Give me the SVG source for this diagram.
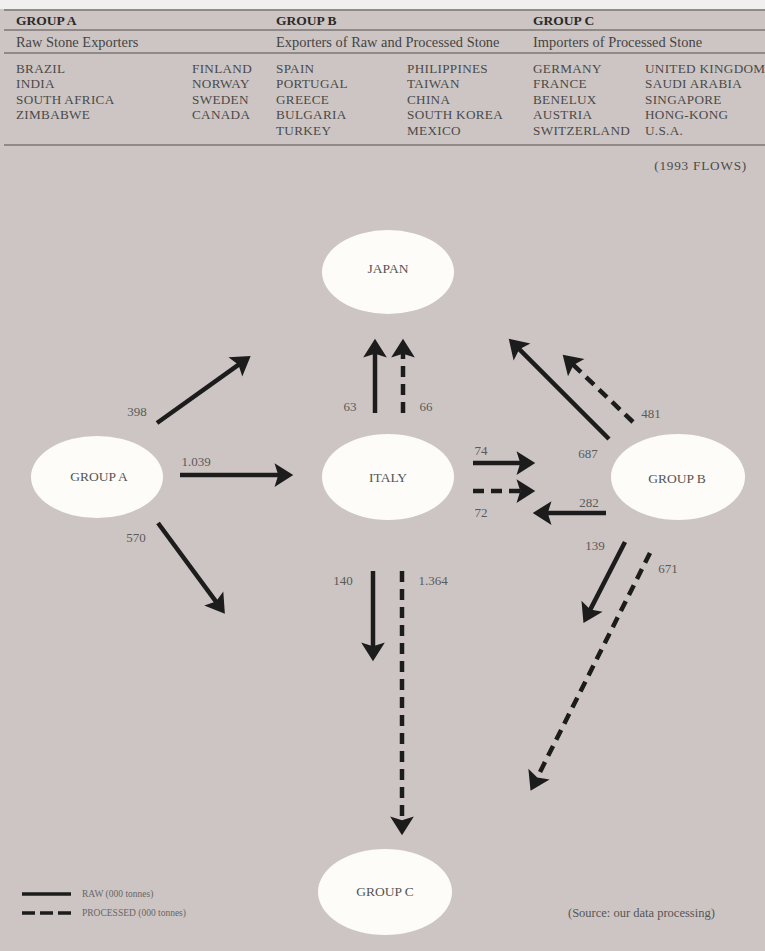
<svg xmlns="http://www.w3.org/2000/svg" width="765" height="951" viewBox="0 0 765 951">
<style>
.hd{font-family:"Liberation Serif",serif;font-weight:bold;font-size:13.5px;fill:#2a2a2a}
.sub{font-family:"Liberation Serif",serif;font-size:14.4px;fill:#444}
.ct{font-family:"Liberation Serif",serif;font-size:13.2px;fill:#4a4a4a;letter-spacing:0.3px}
.rule{stroke:#7a7473;stroke-width:1.3}
.node{fill:#fdfcf8}
.nl{font-family:"Liberation Serif",serif;font-size:13.5px;fill:#555;text-anchor:middle}
.lb{font-family:"Liberation Serif",serif;font-size:13px;fill:#5a5a5a;text-anchor:middle}
.raw{stroke:#1c1c1c;stroke-width:4.5;fill:none;marker-end:url(#ah)}
.proc{stroke:#1c1c1c;stroke-width:4.5;fill:none;stroke-dasharray:11 7;marker-end:url(#ah)}
.lg{font-family:"Liberation Serif",serif;font-size:9.5px;fill:#666}
.note{font-family:"Liberation Serif",serif;font-size:12.5px;fill:#555}
</style>
<defs>
<marker id="ah" markerUnits="userSpaceOnUse" markerWidth="30" markerHeight="30" viewBox="-10 -12 22 24" refX="0" refY="0" orient="auto">
<path d="M9,0 L-6,-9.5 L-3,0 L-6,9.5 Z" fill="#1c1c1c"/>
</marker>
</defs>
<rect x="0" y="0" width="765" height="951" fill="#cdc5c3"/>
<rect x="0" y="0" width="765" height="9" fill="#f2f0ef"/>
<g id="header">
<line class="rule" x1="4" y1="10" x2="765" y2="10"/>
<line class="rule" x1="4" y1="30" x2="765" y2="30"/>
<line class="rule" x1="4" y1="53" x2="765" y2="53"/>
<line class="rule" x1="4" y1="145" x2="765" y2="145"/>
<text class="hd" x="16" y="25">GROUP A</text>
<text class="sub" x="16" y="47">Raw Stone Exporters</text>
<text class="ct" x="16" y="73">BRAZIL</text>
<text class="ct" x="16" y="88">INDIA</text>
<text class="ct" x="16" y="104">SOUTH AFRICA</text>
<text class="ct" x="16" y="119">ZIMBABWE</text>
<text class="ct" x="192" y="73">FINLAND</text>
<text class="ct" x="192" y="88">NORWAY</text>
<text class="ct" x="192" y="104">SWEDEN</text>
<text class="ct" x="192" y="119">CANADA</text>
<text class="hd" x="276" y="25">GROUP B</text>
<text class="sub" x="276" y="47">Exporters of Raw and Processed Stone</text>
<text class="ct" x="276" y="73">SPAIN</text>
<text class="ct" x="276" y="88">PORTUGAL</text>
<text class="ct" x="276" y="104">GREECE</text>
<text class="ct" x="276" y="119">BULGARIA</text>
<text class="ct" x="276" y="135">TURKEY</text>
<text class="ct" x="407" y="73">PHILIPPINES</text>
<text class="ct" x="407" y="88">TAIWAN</text>
<text class="ct" x="407" y="104">CHINA</text>
<text class="ct" x="407" y="119">SOUTH KOREA</text>
<text class="ct" x="407" y="135">MEXICO</text>
<text class="hd" x="533" y="25">GROUP C</text>
<text class="sub" x="533" y="47">Importers of Processed Stone</text>
<text class="ct" x="533" y="73">GERMANY</text>
<text class="ct" x="533" y="88">FRANCE</text>
<text class="ct" x="533" y="104">BENELUX</text>
<text class="ct" x="533" y="119">AUSTRIA</text>
<text class="ct" x="533" y="135">SWITZERLAND</text>
<text class="ct" x="645" y="73">UNITED KINGDOM</text>
<text class="ct" x="645" y="88">SAUDI ARABIA</text>
<text class="ct" x="645" y="104">SINGAPORE</text>
<text class="ct" x="645" y="119">HONG-KONG</text>
<text class="ct" x="645" y="135">U.S.A.</text>
<text class="ct" x="747" y="170" text-anchor="end" style="letter-spacing:0.8px">(1993 FLOWS)</text>
</g>
<g id="connectors">
<line class="raw" x1="157" y1="423" x2="241.5" y2="362.6"/>
<line class="raw" x1="180" y1="475" x2="282" y2="475"/>
<line class="raw" x1="158" y1="523" x2="218.2" y2="604.6"/>
<line class="raw" x1="375" y1="413" x2="375" y2="350"/>
<line class="proc" x1="403" y1="413" x2="403" y2="350"/>
<line class="raw" x1="473" y1="463" x2="524" y2="463"/>
<line class="proc" x1="473" y1="491" x2="524" y2="491"/>
<line class="raw" x1="606" y1="513" x2="544" y2="513"/>
<line class="raw" x1="609" y1="439" x2="516.7" y2="346.7"/>
<line class="proc" x1="633" y1="422" x2="570.8" y2="362.5"/>
<line class="raw" x1="373" y1="571" x2="373" y2="650"/>
<line class="proc" x1="402" y1="571" x2="402" y2="824"/>
<line class="raw" x1="625" y1="542" x2="588.6" y2="612.9"/>
<line class="proc" x1="650" y1="553" x2="535.6" y2="780.8"/>
<text class="lb" x="137" y="416">398</text>
<text class="lb" x="196" y="466">1.039</text>
<text class="lb" x="136" y="542">570</text>
<text class="lb" x="350" y="411">63</text>
<text class="lb" x="426" y="411">66</text>
<text class="lb" x="481" y="455">74</text>
<text class="lb" x="481" y="517">72</text>
<text class="lb" x="589" y="507">282</text>
<text class="lb" x="588" y="458">687</text>
<text class="lb" x="651" y="418">481</text>
<text class="lb" x="343" y="585">140</text>
<text class="lb" x="433" y="585">1.364</text>
<text class="lb" x="595" y="550">139</text>
<text class="lb" x="668" y="573">671</text>
</g>
<g id="japan"><ellipse class="node" cx="388" cy="272" rx="66" ry="42"/><text class="nl" x="388" y="273">JAPAN</text></g>
<g id="groupA"><ellipse class="node" cx="97" cy="477" rx="66" ry="41"/><text class="nl" x="99" y="481">GROUP A</text></g>
<g id="italy"><ellipse class="node" cx="388" cy="477" rx="66" ry="43"/><text class="nl" x="388" y="482">ITALY</text></g>
<g id="groupB"><ellipse class="node" cx="678" cy="477" rx="67" ry="43"/><text class="nl" x="677" y="483">GROUP B</text></g>
<g id="groupC"><ellipse class="node" cx="385" cy="892" rx="67" ry="43"/><text class="nl" x="385" y="896">GROUP C</text></g>
<g id="legend">
<line x1="22" y1="894" x2="71" y2="894" stroke="#1c1c1c" stroke-width="3.5"/>
<text class="lg" x="82" y="897">RAW (000 tonnes)</text>
<line x1="22" y1="913" x2="71" y2="913" stroke="#1c1c1c" stroke-width="3.5" stroke-dasharray="13 5"/>
<text class="lg" x="82" y="916">PROCESSED (000 tonnes)</text>
</g>
<text class="note" x="568" y="917">(Source: our data processing)</text>
</svg>
